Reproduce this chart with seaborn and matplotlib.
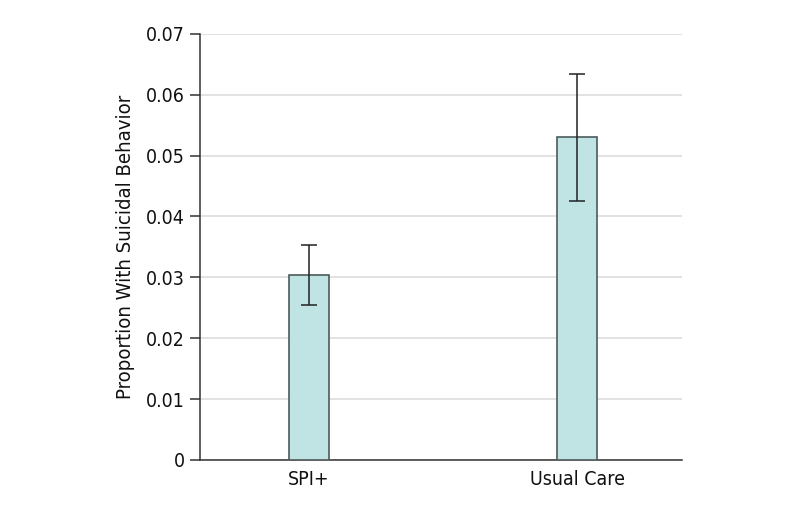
import seaborn as sns
import matplotlib.pyplot as plt
import pandas as pd

groups = ['SPI+', 'Usual Care']
proportion = [0.0304, 0.0530]
ci_low = [0.0255, 0.0425]
ci_high = [0.0353, 0.0634]

sns.set_style('white')
plt.rcParams['font.family'] = ['DejaVu Sans Condensed', 'Liberation Sans Narrow', 'DejaVu Sans']
plt.rcParams['font.stretch'] = 'condensed'

fig = plt.figure(figsize=(7.94, 5.07), dpi=100)
ax = fig.add_axes([0.252, 0.093, 0.607, 0.84])

df = pd.DataFrame({'group': groups, 'proportion': proportion})
sns.barplot(data=df, x='group', y='proportion', color='#c0e4e3',
            edgecolor='#4d5b5b', linewidth=1.2, width=0.15,
            saturation=1, errorbar=None, ax=ax, zorder=3)

xs = ax.get_xticks()
yerr = [[p - lo for p, lo in zip(proportion, ci_low)],
        [hi - p for p, hi in zip(proportion, ci_high)]]
ax.errorbar(xs, proportion, yerr=yerr, fmt='none', ecolor='#222222',
            elinewidth=1.1, capsize=6, capthick=1.1, zorder=4)

ax.set_xlim(-0.405, 1.39)
ax.set_ylim(0, 0.07)
ax.set_yticks([0, 0.01, 0.02, 0.03, 0.04, 0.05, 0.06, 0.07])
ax.set_yticklabels(['0', '0.01', '0.02', '0.03', '0.04', '0.05', '0.06', '0.07'])
ax.yaxis.grid(True, color='#dddddd', linewidth=1.2, zorder=0)
ax.set_axisbelow(True)

for side in ['top', 'right']:
    ax.spines[side].set_visible(False)
for side in ['left', 'bottom']:
    ax.spines[side].set_color('#333333')
    ax.spines[side].set_linewidth(1.1)

ax.tick_params(axis='y', left=True, length=7, width=1.1, color='#333333',
               labelsize=14, labelcolor='#111111', pad=4)
ax.tick_params(axis='x', bottom=False, labelsize=14, labelcolor='#111111', pad=4)
ax.set_xlabel('')
ax.set_ylabel('Proportion With Suicidal Behavior', fontsize=14.6, color='#111111', labelpad=8)

fig.savefig('out.png', dpi=100)
